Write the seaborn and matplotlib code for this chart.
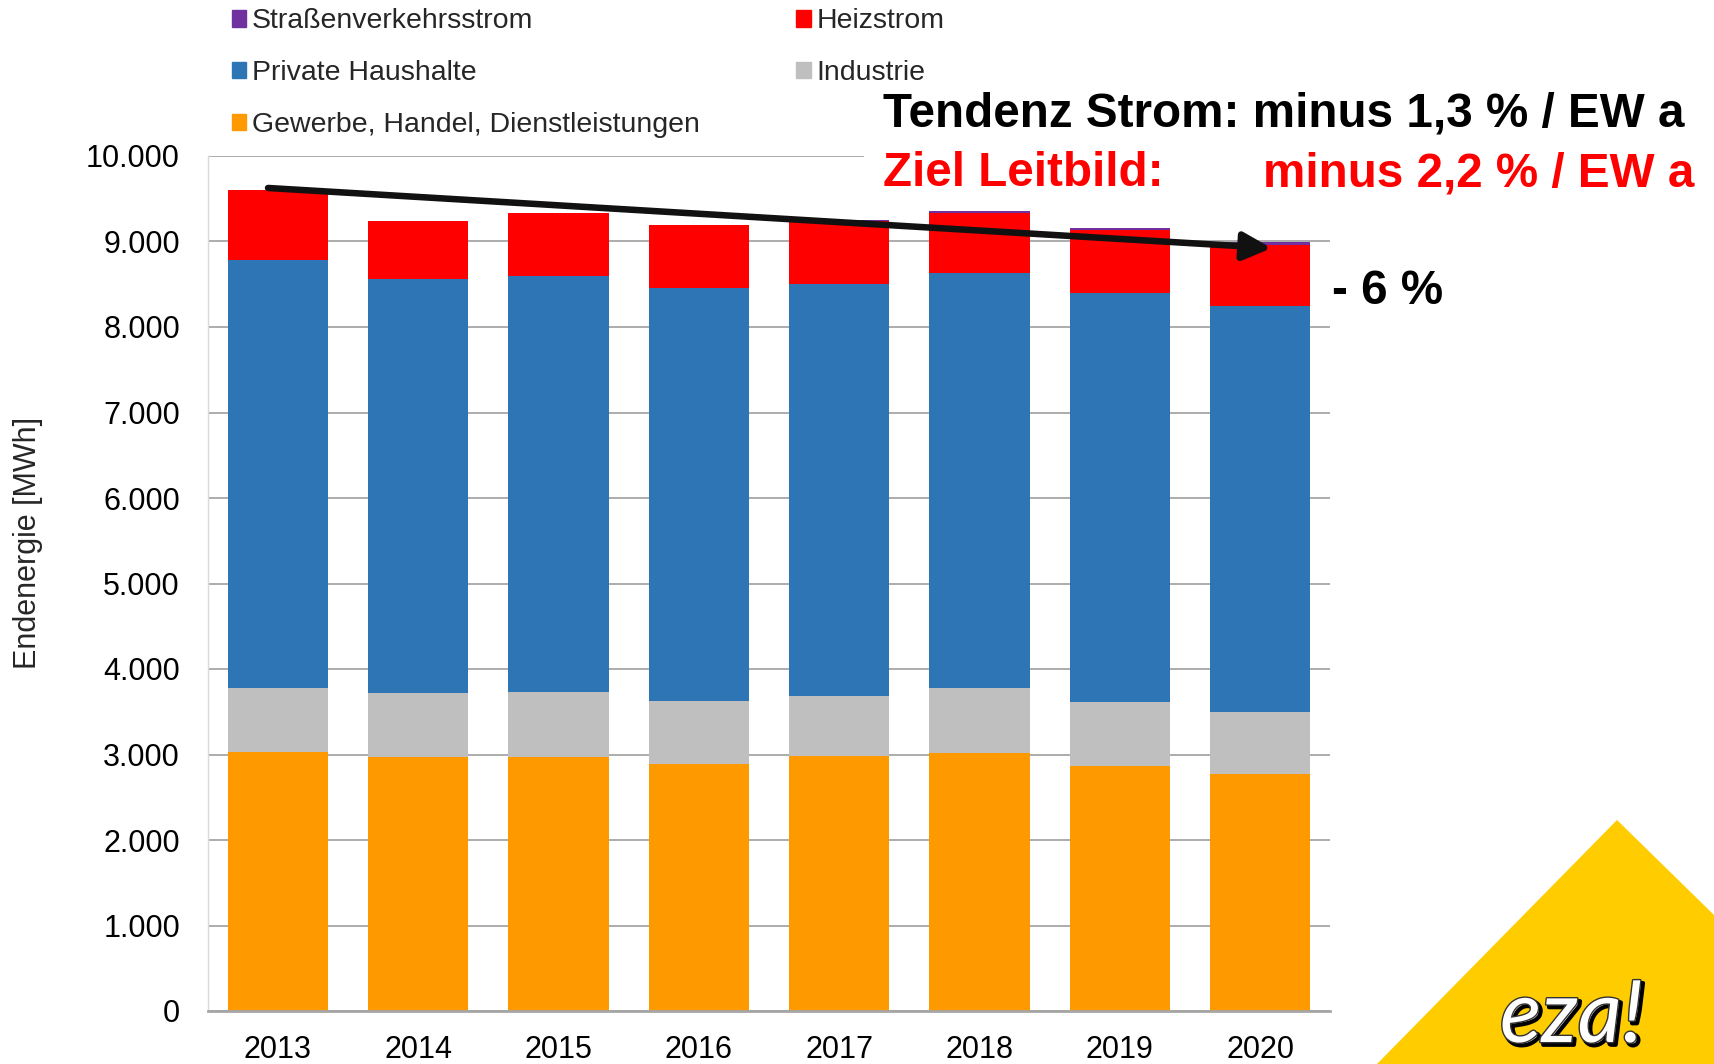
import numpy as np
import pandas as pd
import matplotlib
matplotlib.use("Agg")
import matplotlib.pyplot as plt
import matplotlib.patches as mpatches
import matplotlib.patheffects as pe
import seaborn as sns

# ---------------- data ----------------
years = ["2013", "2014", "2015", "2016", "2017", "2018", "2019", "2020"]
gewerbe = [3030, 2965, 2970, 2885, 2980, 3020, 2870, 2775]
industrie = [752, 752, 756, 744, 705, 756, 748, 721]
private = [5000, 4850, 4870, 4825, 4820, 4855, 4780, 4745]
heiz = [815, 670, 735, 735, 740, 700, 735, 720]
strassen = [0, 0, 5, 5, 10, 20, 20, 30]

layer_names = ["Gewerbe, Handel, Dienstleistungen", "Industrie",
               "Private Haushalte", "Heizstrom", "Straßenverkehrsstrom"]
layer_colors = ["#FF9900", "#BFBFBF", "#2E75B6", "#FF0000", "#7030A0"]

ytick_values = [0, 1000, 2000, 3000, 4000, 5000, 6000, 7000, 8000, 9000, 10000]
ytick_labels = ["0", "1.000", "2.000", "3.000", "4.000", "5.000",
                "6.000", "7.000", "8.000", "9.000", "10.000"]

# ---------------- style ----------------
sns.set_style("white")
plt.rcParams["font.family"] = ["Liberation Sans", "DejaVu Sans"]

W, H = 1714, 1064
fig = plt.figure(figsize=(W / 100, H / 100), dpi=100)
ax = fig.add_axes([207.7 / W, 1 - 1011 / H, (1330.3 - 207.7) / W, (1011 - 156) / H])

df = pd.DataFrame({"Jahr": years,
                   layer_names[0]: gewerbe,
                   layer_names[1]: industrie,
                   layer_names[2]: private,
                   layer_names[3]: heiz,
                   layer_names[4]: strassen})
cum = df[layer_names].cumsum(axis=1)

for name, col in reversed(list(zip(layer_names, layer_colors))):
    sns.barplot(x=df["Jahr"], y=cum[name], color=col, saturation=1,
                width=0.717, linewidth=0, errorbar=None, ax=ax, zorder=2)

ax.set_xlim(-0.5, len(years) - 0.5)
ax.set_ylim(0, 10000)
ax.set_yticks(ytick_values)
ax.set_yticklabels(ytick_labels)
ax.set_xlabel("")
ax.set_ylabel("Endenergie [MWh]", fontsize=22, va="center")
ax.yaxis.set_label_coords(-0.1597, 0.547)

ax.yaxis.grid(True, color="#A6A6A6", linewidth=1.3, zorder=0)
ax.set_axisbelow(True)
for s in ["top", "right"]:
    ax.spines[s].set_visible(False)
ax.spines["left"].set_color("#D9D9D9")
ax.spines["left"].set_linewidth(1.0)
ax.spines["bottom"].set_color("#A6A6A6")
ax.spines["bottom"].set_linewidth(2.0)
ax.tick_params(axis="both", length=0, labelsize=22, labelcolor="black")
ax.tick_params(axis="x", pad=17.5)
ax.tick_params(axis="y", pad=20)

# trend arrow
ax.annotate("", xy=(7.08, 8924), xytext=(-0.07, 9626),
            arrowprops=dict(arrowstyle="-|>,head_length=0.85,head_width=0.42",
                            lw=4.7, color="#111111", mutation_scale=20,
                            shrinkA=0, shrinkB=0,
                            path_effects=[pe.SimplePatchShadow(offset=(2, -2), alpha=0.35),
                                          pe.Normal()]),
            zorder=5)

# legend
handles = [mpatches.Patch(color=c, label=n) for n, c in zip(layer_names, layer_colors)]
order = [4, 2, 0, 3, 1]
leg = fig.legend([handles[i] for i in order], [layer_names[i] for i in order],
                 loc="upper left", bbox_to_anchor=(232 / W, 1 - 8.5 / H),
                 ncol=2, frameon=False, fontsize=20.5,
                 handlelength=0.5, handleheight=0.5, handletextpad=0.2,
                 columnspacing=3.39, labelspacing=0.91, borderpad=0, borderaxespad=0)

# white box covering top gridline behind annotation text
fig.patches.append(mpatches.Rectangle((864 / W, 1 - 200 / H), (W - 864) / W, 65 / H,
                                      transform=fig.transFigure, facecolor="white",
                                      edgecolor="none", zorder=3))

fig.text(883 / W, 1 - 127 / H, "Tendenz Strom: minus 1,3 % / EW a", fontsize=34.3,
         fontweight="bold", color="black", ha="left", va="baseline", zorder=6)
fig.text(883 / W, 1 - 186 / H, "Ziel Leitbild:", fontsize=34.3,
         fontweight="bold", color="#FF0000", ha="left", va="baseline", zorder=6)
fig.text(1694 / W, 1 - 186 / H, "minus 2,2 % / EW a", fontsize=34.3,
         fontweight="bold", color="#FF0000", ha="right", va="baseline", zorder=6)
fig.text(1332 / W, 1 - 304 / H, "- 6 %", fontsize=34.3,
         fontweight="bold", color="black", ha="left", va="baseline", zorder=6)

# logo triangle
tri = mpatches.Polygon([(1617 / W, 1 - 820 / H), (1.0, 1 - 915 / H), (1.0, 0.0), (1377 / W, 0.0)],
                       closed=True, transform=fig.transFigure, facecolor="#FFCC00",
                       edgecolor="none", zorder=4)
fig.patches.append(tri)
fig.text(1500 / W, 1 - 1042 / H, "eza!", fontsize=62, fontstyle="italic",
         family=["Lato", "DejaVu Sans"], color="white", ha="left", va="baseline", zorder=6,
         path_effects=[pe.Stroke(linewidth=3, foreground="black", offset=(2, -2)),
                       pe.Stroke(linewidth=2, foreground="#333333"), pe.Normal()])

fig.savefig("out.png", dpi=100, facecolor="white")
